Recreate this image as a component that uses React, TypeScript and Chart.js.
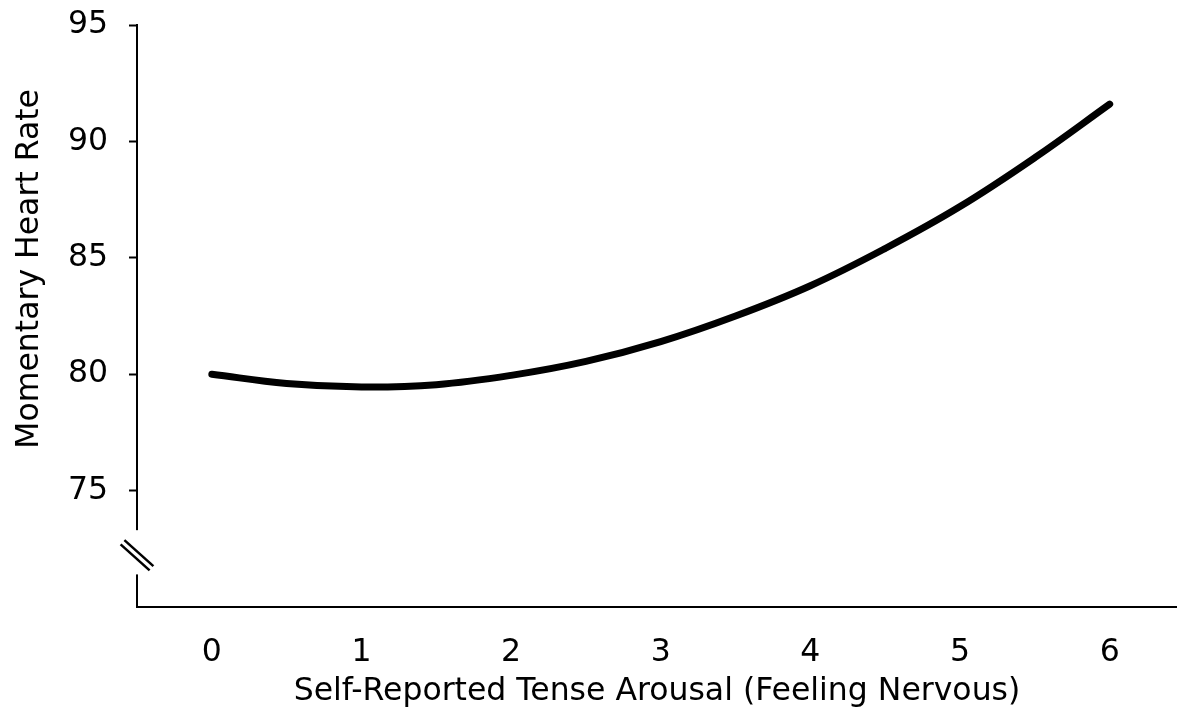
import React, { useEffect, useRef } from "react";
import { Chart, registerables } from "chart.js";

Chart.register(...registerables);

const xValues = [0, 0.5, 1, 1.5, 2, 2.5, 3, 3.5, 4, 4.5, 5, 5.5, 6];
const heartRate = [80.0, 79.6, 79.45, 79.55, 79.95, 80.55, 81.4, 82.5, 83.8, 85.4, 87.2, 89.3, 91.6];
const xTickValues = [0, 1, 2, 3, 4, 5, 6];
const yTickValues = [70, 75, 80, 85, 90, 95];
const yTickLabels = ["", "75", "80", "85", "90", "95"];
const yTitle = "Momentary Heart Rate";
const xTitle = "Self-Reported Tense Arousal (Feeling Nervous)";

const FONT = "'DejaVu Sans', Verdana, sans-serif";
const FSIZE = 31.5;

const decorPlugin = {
  id: "axisDecor",
  afterDraw(chart: any) {
    const ctx = chart.ctx;
    const y = chart.scales.y;
    const area = chart.chartArea;
    const left = area.left;
    const gapTop = y.getPixelForValue(73.3);
    const gapBot = y.getPixelForValue(71.4);
    ctx.save();
    ctx.fillStyle = "#ffffff";
    ctx.fillRect(left - 4, gapTop, 8, gapBot - gapTop);
    const cy = (gapTop + gapBot) / 2 + 3;
    const cx = left;
    const dx = 14.5, dy = 13;
    const ox = -1.9, oy = 2.1;
    ctx.strokeStyle = "#000000";
    ctx.lineWidth = 2.5;
    for (const s of [-1, 1]) {
      ctx.beginPath();
      ctx.moveTo(cx - dx + s * ox, cy - dy + s * oy);
      ctx.lineTo(cx + dx + s * ox, cy + dy + s * oy);
      ctx.stroke();
    }
    const ty = area.top + (area.bottom - area.top) * 0.419;
    ctx.translate(30, ty);
    ctx.rotate(-Math.PI / 2);
    ctx.fillStyle = "#000000";
    ctx.font = `${FSIZE}px ${FONT}`;
    ctx.textAlign = "center";
    ctx.textBaseline = "middle";
    ctx.fillText(yTitle, 0, 0);
    ctx.restore();
  },
};

export default function App() {
  const ref = useRef<HTMLCanvasElement | null>(null);
  useEffect(() => {
    if (!ref.current) return;
    const chart = new Chart(ref.current, {
      type: "line",
      data: {
        datasets: [
          {
            data: xValues.map((x, i) => ({ x, y: heartRate[i] })),
            borderColor: "#000000",
            borderWidth: 7,
            borderCapStyle: "round",
            pointRadius: 0,
            tension: 0.4,
            fill: false,
          },
        ],
      },
      options: {
        animation: false,
        responsive: true,
        maintainAspectRatio: false,
        layout: { padding: { top: 25, right: 0, left: 0, bottom: 0 } },
        plugins: { legend: { display: false }, tooltip: { enabled: false } },
        scales: {
          x: {
            type: "linear",
            min: -0.5,
            max: 6.45,
            afterBuildTicks: (scale: any) => {
              scale.ticks = xTickValues.map((v) => ({ value: v }));
            },
            afterFit: (scale: any) => {
              scale.height = 108;
              scale.paddingLeft = 0;
              scale.paddingRight = 0;
            },
            grid: { display: true, drawOnChartArea: false, drawTicks: false },
            border: { display: true, color: "#000000", width: 2 },
            ticks: {
              color: "#000000",
              padding: 27,
              font: { family: FONT, size: FSIZE },
              callback: (v: any) => String(v),
            },
            title: {
              display: true,
              text: xTitle,
              color: "#000000",
              font: { family: FONT, size: FSIZE },
              padding: { top: 2, bottom: 4 },
            },
          },
          y: {
            type: "linear",
            min: 70,
            max: 95,
            afterBuildTicks: (scale: any) => {
              scale.ticks = yTickValues.map((v) => ({ value: v }));
            },
            afterFit: (scale: any) => {
              scale.width = 137;
              scale.paddingTop = 0;
              scale.paddingBottom = 0;
            },
            grid: {
              display: true,
              drawOnChartArea: false,
              drawTicks: true,
              tickLength: 8,
              tickWidth: 2,
              tickColor: (c: any) => (c.tick && c.tick.value === 70 ? "rgba(0,0,0,0)" : "#000000"),
            },
            border: { display: true, color: "#000000", width: 2 },
            ticks: {
              color: "#000000",
              padding: 21,
              font: { family: FONT, size: FSIZE },
              callback: (v: any) => {
                const i = yTickValues.indexOf(Number(v));
                return i >= 0 ? yTickLabels[i] : "";
              },
            },
            title: { display: false },
          },
        },
      },
      plugins: [decorPlugin],
    } as any);
    return () => chart.destroy();
  }, []);
  return (
    <div style={{ position: "absolute", left: 0, top: 0, width: 1177, height: 715, background: "#fff" }}>
      <canvas ref={ref} />
    </div>
  );
}
